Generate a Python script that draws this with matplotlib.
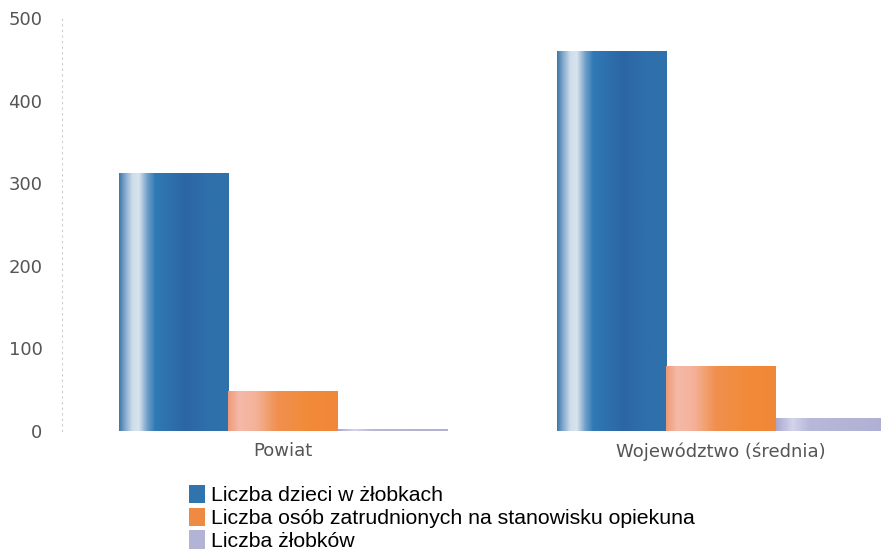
import matplotlib
matplotlib.use("Agg")
import matplotlib.pyplot as plt
import numpy as np
from matplotlib.colors import LinearSegmentedColormap

categories = ["Powiat", "Województwo (średnia)"]
series_names = ["Liczba dzieci w żłobkach",
                "Liczba osób zatrudnionych na stanowisku opiekuna",
                "Liczba żłobków"]
dzieci = [312, 460]
opiekunowie = [48, 79]
zlobki = [3, 16]
yticks = [0, 100, 200, 300, 400, 500]

series = [dzieci, opiekunowie, zlobki]
base_colors = ["#2f74ad", "#ef8a45", "#b3b3d6"]
grad_stops = [
    [(0.0, "#3a78a8"), (0.05, "#7fa6cc"), (0.12, "#cfdcea"), (0.18, "#d8e3ee"),
     (0.26, "#6e9dc8"), (0.33, "#2f7ab5"), (0.6, "#2c66a4"), (0.8, "#2f6fab"),
     (1.0, "#2f72ac")],
    [(0.0, "#ef9a78"), (0.1, "#f5b9a8"), (0.25, "#f4b29a"), (0.45, "#f0904f"),
     (0.75, "#f28a38"), (1.0, "#f0883a")],
    [(0.0, "#a9a9d0"), (0.15, "#d4d4ea"), (0.3, "#b8b8da"), (1.0, "#b0b0d4")],
]

W, H = 881, 554
fig = plt.figure(figsize=(W / 100, H / 100), dpi=100)
left, right, bottom, top = 62, 881, 431, 18
ax = fig.add_axes([left / W, 1 - bottom / H, (right - left) / W, (bottom - top) / H])

x = np.arange(len(categories))
w = 0.25
grad = np.linspace(0, 1, 256).reshape(1, -1)
handles = []
for i, (vals, col, stops) in enumerate(zip(series, base_colors, grad_stops)):
    bars = ax.bar(x + (i - 1) * w, vals, width=w, color=col, label=series_names[i],
                  linewidth=0, zorder=2)
    cmap = LinearSegmentedColormap.from_list(f"g{i}", stops)
    for b in bars:
        bx, by = b.get_x(), b.get_y()
        bw, bh = b.get_width(), b.get_height()
        im = ax.imshow(grad, cmap=cmap, aspect="auto",
                       extent=[bx, bx + bw, by, by + bh], zorder=3,
                       interpolation="bilinear")
        im.set_clip_path(b)
    handles.append(bars)

ax.set_xlim(-0.505, 1.365)
ax.set_ylim(0, 500)
ax.set_yticks(yticks)
ax.set_yticklabels([str(v) for v in yticks])
ax.set_xticks(x)
ax.set_xticklabels(categories)
ax.tick_params(axis="both", length=0, labelcolor="#555555", labelsize=13)
ax.tick_params(axis="y", pad=14)
ax.tick_params(axis="x", pad=8)
for s in ["top", "right", "bottom"]:
    ax.spines[s].set_visible(False)
ax.spines["left"].set_linestyle((0, (1, 4)))
ax.spines["left"].set_color("#cccccc")
ax.spines["left"].set_linewidth(0.8)
ax.axhline(0, color="#dddddd", lw=0.8, ls=(0, (1, 3)), zorder=1)

fig.legend(handles=handles, labels=series_names, loc="upper left",
           bbox_to_anchor=(189 / W, 1 - 485 / H), frameon=False,
           prop={"family": "Liberation Sans", "size": 15.3},
           handlelength=0.75, handleheight=0.95, handletextpad=0.3,
           labelspacing=0.1, borderpad=0, borderaxespad=0)

fig.savefig("out.png", dpi=100)
